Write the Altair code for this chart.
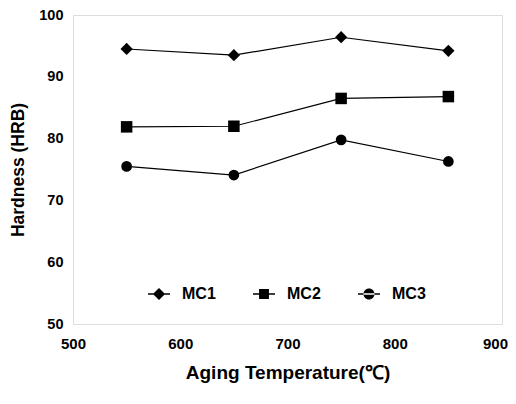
import altair as alt
import pandas as pd

temps = [550, 650, 750, 850]
series_names = ["MC1", "MC2", "MC3"]
mc1 = [94.5, 93.5, 96.4, 94.2]
mc2 = [81.9, 82.0, 86.5, 86.8]
mc3 = [75.5, 74.1, 79.8, 76.3]
x_ticks = [500, 600, 700, 800, 900]
y_ticks = [50, 60, 70, 80, 90, 100]

rows = []
for name, vals in zip(series_names, [mc1, mc2, mc3]):
    for t, v in zip(temps, vals):
        rows.append({"temp": t, "hrb": v, "series": name})
df = pd.DataFrame(rows)

FONT = "Liberation Sans"

x = alt.X("temp:Q", scale=alt.Scale(domain=[500, 900], nice=False),
          axis=alt.Axis(values=x_ticks, title="Aging Temperature(℃)", grid=False,
                        ticks=False, domain=False, labelPadding=12, labelFlush=False,
                        labelOffset={"condition": {"test": "datum.value == 900", "value": -7}, "value": 0},
                        labelFontSize=15, labelFontWeight="bold", labelFont=FONT,
                        titleFontSize=19, titleFontWeight="bold", titleFont=FONT,
                        titlePadding=12, labelColor="black", titleColor="black"))
y = alt.Y("hrb:Q", scale=alt.Scale(domain=[50, 100], nice=False),
          axis=alt.Axis(values=y_ticks, title="Hardness (HRB)", grid=False,
                        ticks=False, domain=False, labelPadding=10, labelFlush=False,
                        labelFontSize=14.5, labelFontWeight="bold", labelFont=FONT,
                        titleFontSize=17.5, titleFontWeight="bold", titleFont=FONT,
                        titlePadding=11, labelColor="black", titleColor="black"))

base = alt.Chart(df)

lines = base.mark_line(color="black", strokeWidth=1.2).encode(
    x=x, y=y, detail="series:N")

points = base.mark_point(filled=True, color="black", opacity=1).encode(
    x=x, y=y,
    shape=alt.Shape("series:N", scale=alt.Scale(domain=series_names,
                                                range=["diamond", "square", "circle"]),
                    legend=None),
    size=alt.Size("series:N", scale=alt.Scale(domain=series_names, range=[150, 115, 115]),
                  legend=None),
)

line_bar = "M-1,-0.06L1,-0.06L1,0.06L-1,0.06Z"
legend_paths = [
    line_bar + "M0,-0.55L0.55,0L0,0.55L-0.55,0Z",
    line_bar + "M-0.45,-0.45L0.45,-0.45L0.45,0.45L-0.45,0.45Z",
    line_bar + "M-0.5,0A0.5,0.5 0 1,0 0.5,0A0.5,0.5 0 1,0 -0.5,0Z",
]

legend_layer = base.mark_point(filled=True, color="black").encode(
    x=x, y=y,
    shape=alt.Shape("series:N", scale=alt.Scale(domain=series_names, range=legend_paths),
                    legend=alt.Legend(title=None, orient="none", direction="horizontal",
                                      legendX=75, legendY=268, symbolSize=484,
                                      symbolFillColor="black", symbolStrokeWidth=0,
                                      symbolOpacity=1, labelOffset=12, columnPadding=37,
                                      labelFontSize=16, labelFontWeight="bold",
                                      labelFont=FONT, labelColor="black")),
).transform_filter("false")

chart = alt.layer(lines, points, legend_layer).resolve_scale(shape="independent", size="independent").properties(
    width=429, height=309,
    autosize=alt.AutoSizeParams(type="none"),
    padding={"left": 65, "top": 7, "right": 6, "bottom": 72},
).configure_view(stroke="black", strokeWidth=1.5).configure(background="white")

chart.save("out.html", embed_options={"renderer": "svg", "actions": False})
